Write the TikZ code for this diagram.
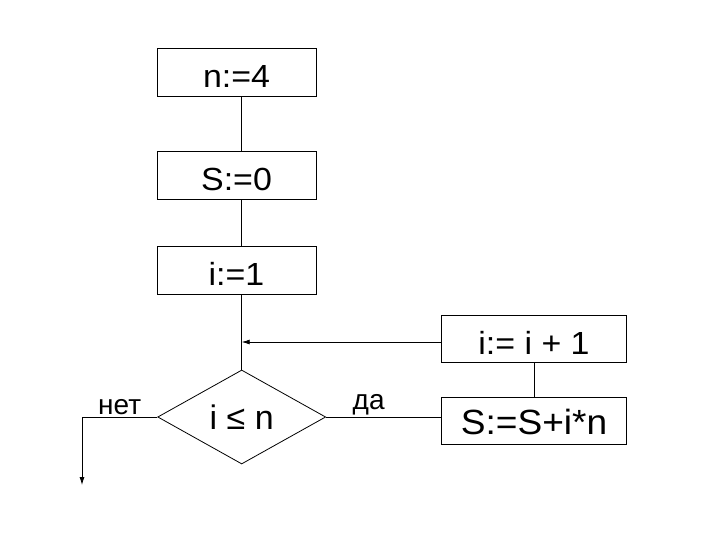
\documentclass[tikz,border=0pt]{standalone}
\usepackage{fontspec}
\setmainfont{Liberation Sans}
\usetikzlibrary{shapes.geometric}
\usetikzlibrary{positioning}
\usetikzlibrary{arrows.meta}

\newcommand{\wide}[1]{\scalebox{1.06}[1]{#1}}

\begin{document}
\begin{tikzpicture}[x=1pt, y=-1pt, line width=0.8pt, >={Latex[length=8pt, width=5pt]},
    box/.style={draw, rectangle, inner sep=0pt, minimum width=159pt, minimum height=48pt, text height=31pt, text depth=0pt, font=\fontsize{32}{38}\selectfont},
    wbox/.style={box, minimum width=185pt, minimum height=47pt},
    cond/.style={draw, diamond, inner sep=0pt, shape aspect=1.8, minimum width=168pt, minimum height=94pt, font=\fontsize{34}{40}\selectfont},
    lbl/.style={font=\fontsize{28}{32}\selectfont, inner sep=2pt}]

      \useasboundingbox (0, 0) rectangle (720, 540);

      % main column
      \node[box] (n4) at (236.5, 72.5) {\wide{n:=4}};
      \node[box] (s0) at (236.5, 175) {\wide{S:=0}};
      \node[box] (i1) at (236.5, 270) {\wide{i:=1}};
      \node[cond] (test) at (241.7, 417) {i ≤ n};

      % loop body
      \node[wbox] (inc) at (534, 338.5) {\wide{i:= i + 1}};
      \node[wbox, text height=27pt, font=\fontsize{35}{40}\selectfont] (sum) at (534, 420.5) {\wide{S:=S+i*n}};

      \coordinate (exit) at (82, 485);

      \draw (test.north |- n4.south) -- (test.north |- s0.north);
      \draw (test.north |- s0.south) -- (test.north |- i1.north);
      \draw (test.north |- i1.south) -- (test.north);

      \draw[->] ([yshift=-3.5pt]inc.west) -- ([yshift=-3.5pt]inc.west -| test.north);
      \draw (inc.south) -- (sum.north);

      \draw (test.east) -- node[lbl, pos=0.37, above] {да} (test.east -| sum.west);
      \draw[->] (test.west) -- node[lbl, above] {нет} (test.west -| exit) -- (exit);
    \end{tikzpicture}
\end{document}
